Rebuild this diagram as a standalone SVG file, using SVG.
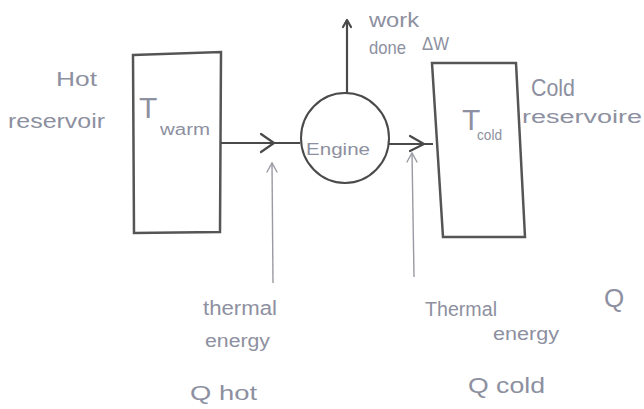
<svg xmlns="http://www.w3.org/2000/svg" width="644" height="409" viewBox="0 0 644 409">
<defs>
<style>
.lbl{font-family:"Liberation Sans","DejaVu Sans",sans-serif;fill:#8d90a0;}
.box{fill:#fff;stroke:#555;stroke-width:2.5;}
.thick{fill:none;stroke:#4a4a4a;stroke-width:2.2;}
.thin{fill:none;stroke:#9a9aa4;stroke-width:1.4;}
.ah{fill:none;stroke:#4a4a4a;stroke-width:2.2;stroke-linecap:round;stroke-linejoin:round;}
.ahthin{fill:none;stroke:#9a9aa4;stroke-width:1.4;stroke-linecap:round;}
</style>
</defs>
<rect width="644" height="409" fill="#fff"/>

<g id="hot-reservoir">
<polygon class="box" points="133,55 221,52 220,232 134,233"/>
<text class="lbl" x="56" y="86" font-size="20" textLength="41" lengthAdjust="spacingAndGlyphs">Hot</text>
<text class="lbl" x="8" y="128" font-size="20" textLength="97" lengthAdjust="spacingAndGlyphs">reservoir</text>
<text class="lbl" x="139" y="118" font-size="30">T</text>
<text class="lbl" x="160" y="135" font-size="16" textLength="50" lengthAdjust="spacingAndGlyphs">warm</text>
</g>

<g id="engine">
<ellipse cx="345" cy="138" rx="44" ry="45" fill="#fff" stroke="#4a4a4a" stroke-width="2"/>
<text class="lbl" x="338" y="155" font-size="17" text-anchor="middle" textLength="64" lengthAdjust="spacingAndGlyphs">Engine</text>
</g>

<g id="cold-reservoir">
<polygon class="box" points="432,63 516,63 525,237 443,237"/>
<text class="lbl" x="462" y="130" font-size="30">T</text>
<text class="lbl" x="477" y="140" font-size="14" textLength="25" lengthAdjust="spacingAndGlyphs">cold</text>
<text class="lbl" x="531" y="96" font-size="24" textLength="44" lengthAdjust="spacingAndGlyphs">Cold</text>
<text class="lbl" x="522" y="123" font-size="18" textLength="120" lengthAdjust="spacingAndGlyphs">reservoire</text>
</g>

<g id="work-label">
<text class="lbl" x="369" y="27" font-size="20" textLength="50" lengthAdjust="spacingAndGlyphs">work</text>
<text class="lbl" x="369" y="54" font-size="19" textLength="37" lengthAdjust="spacingAndGlyphs">done</text>
<text class="lbl" x="422" y="50" font-size="18" textLength="27" lengthAdjust="spacingAndGlyphs">ΔW</text>
</g>

<g id="q-hot-label">
<text class="lbl" x="203" y="315" font-size="20" textLength="74" lengthAdjust="spacingAndGlyphs">thermal</text>
<text class="lbl" x="205" y="347" font-size="18" textLength="65" lengthAdjust="spacingAndGlyphs">energy</text>
<text class="lbl" x="190" y="400" font-size="20" textLength="67" lengthAdjust="spacingAndGlyphs">Q hot</text>
</g>

<g id="q-cold-label">
<text class="lbl" x="425" y="316" font-size="20" textLength="72" lengthAdjust="spacingAndGlyphs">Thermal</text>
<text class="lbl" x="493" y="340" font-size="18" textLength="66" lengthAdjust="spacingAndGlyphs">energy</text>
<text class="lbl" x="468" y="393" font-size="22" textLength="77" lengthAdjust="spacingAndGlyphs">Q cold</text>
</g>

<g id="q-right-label">
<text class="lbl" x="604" y="307" font-size="26">Q</text>
</g>

<g id="connectors">
<line class="thick" x1="221" y1="143" x2="300" y2="143"/>
<polyline class="ah" points="261,134 274,143 261,152"/>
<line class="thick" x1="389" y1="144" x2="433" y2="144"/>
<polyline class="ah" points="410,136 424,144 410,151"/>
<line class="thick" x1="347" y1="93" x2="347" y2="20"/>
<polyline class="ah" points="343,27 347,20 351,27"/>
<line class="thin" x1="273" y1="283" x2="272" y2="163"/>
<polyline class="ahthin" points="267,172 272,163 277,172"/>
<line class="thin" x1="414" y1="277" x2="412" y2="153"/>
<polyline class="ahthin" points="407,162 412,153 417,162"/>
</g>
</svg>
